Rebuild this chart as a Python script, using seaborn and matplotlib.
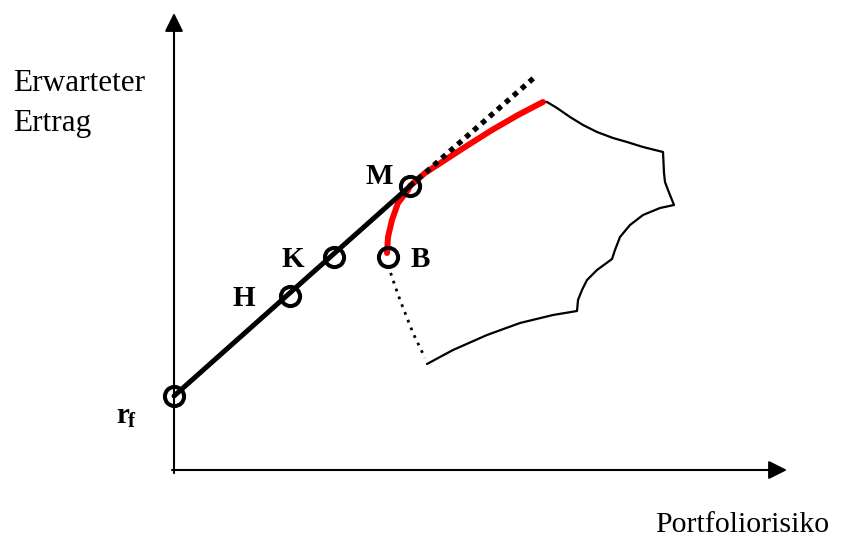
import matplotlib
matplotlib.use("Agg")
import matplotlib.pyplot as plt
import seaborn as sns
import pandas as pd

# --- data (risk on x, expected return on y; origin where the axes meet) ---
rf = (0, 74)
portfolio_names = ["H", "K", "M", "B"]
portfolio_x = [116, 160, 236, 214]
portfolio_y = [174, 213, 284, 213]

# capital market line: beyond M it continues dotted
cml_dotted_x = [236, 362]
cml_dotted_y = [284, 394]

# efficient frontier (red) from B through M
frontier_x = [213, 214, 218, 224, 234, 236, 251, 268, 291, 318, 344, 369]
frontier_y = [217, 233, 250, 267, 280, 284, 297, 308, 323, 340, 355, 368]

# inefficient lower part below B (dotted)
lower_x = [214, 220, 226, 239, 251]
lower_y = [205, 187, 170, 137, 112]

# outer border of the feasible set
border_x = [369, 373, 383, 396, 409, 423, 439, 453, 469, 489,
            490, 491, 494, 500,
            486, 469, 456, 446, 441, 438,
            423, 413, 408, 404, 403,
            379, 346, 313, 279, 253]
border_y = [368, 368, 362, 353, 345, 338, 332, 328, 323, 318,
            297, 288, 280, 265,
            262, 255, 245, 233, 220, 211,
            200, 190, 180, 170, 159,
            155, 147, 135, 120, 106]

sns.set_theme(style="white")
plt.rcParams["font.family"] = ["Liberation Serif", "DejaVu Serif"]
plt.rcParams["text.color"] = "black"

fig = plt.figure(figsize=(8.42, 5.37), dpi=100)
ax = fig.add_axes([0, 0, 1, 1])
ax.set_xlim(-174, 668)
ax.set_ylim(-67, 470)
ax.axis("off")

# axes with arrow heads
arrow = dict(arrowstyle="-|>,head_length=0.8,head_width=0.4", lw=1.5,
             color="black", mutation_scale=14, shrinkA=0, shrinkB=0)
ax.annotate("", xy=(0, 457), xytext=(0, -3), arrowprops=arrow)
ax.annotate("", xy=(613, 0), xytext=(-2, 0), arrowprops=arrow)

line_kw = dict(sort=False, estimator=None, ax=ax)

# feasible set border
sns.lineplot(x=border_x, y=border_y, color="black", lw=1.6,
             solid_joinstyle="round", **line_kw)
# inefficient part
sns.lineplot(x=lower_x, y=lower_y, color="black", lw=2.0,
             linestyle=(0, (1, 2.0)), **line_kw)
# efficient frontier
sns.lineplot(x=frontier_x, y=frontier_y, color="red", lw=4.3,
             solid_joinstyle="round", **line_kw)
# capital market line
sns.lineplot(x=[rf[0], portfolio_x[2]], y=[rf[1], portfolio_y[2]],
             color="black", lw=3.6, **line_kw)
sns.lineplot(x=cml_dotted_x, y=cml_dotted_y, color="black", lw=3.8,
             linestyle=(0, (1, 1)), **line_kw)

# portfolio markers
pts = pd.DataFrame({"x": [rf[0]] + portfolio_x, "y": [rf[1]] + portfolio_y})
ax.plot(pts["x"], pts["y"], linestyle="none", marker="o", ms=13.8,
        mfc="none", mec="black", mew=2.9, zorder=5)

# labels
bold = dict(fontsize=21, fontweight="bold", color="black")
ax.text(205, 286, "M", ha="center", va="baseline", **bold)
ax.text(119, 203, "K", ha="center", va="baseline", **bold)
ax.text(70, 164, "H", ha="center", va="baseline", **bold)
ax.text(246, 203, "B", ha="center", va="baseline", **bold)
ax.text(-58, 47, "r", ha="left", va="baseline", **bold)
ax.text(-46, 43, "f", ha="left", va="baseline", fontsize=15,
        fontweight="bold", color="black")

ax.text(-161, 379, "Erwarteter", fontsize=22.5, ha="left", va="baseline", color="black")
ax.text(-161, 339, "Ertrag", fontsize=22.5, ha="left", va="baseline", color="black")
ax.text(481, -62, "Portfoliorisiko", fontsize=21.5, ha="left", va="baseline", color="black")

fig.savefig("out.png", dpi=100)
